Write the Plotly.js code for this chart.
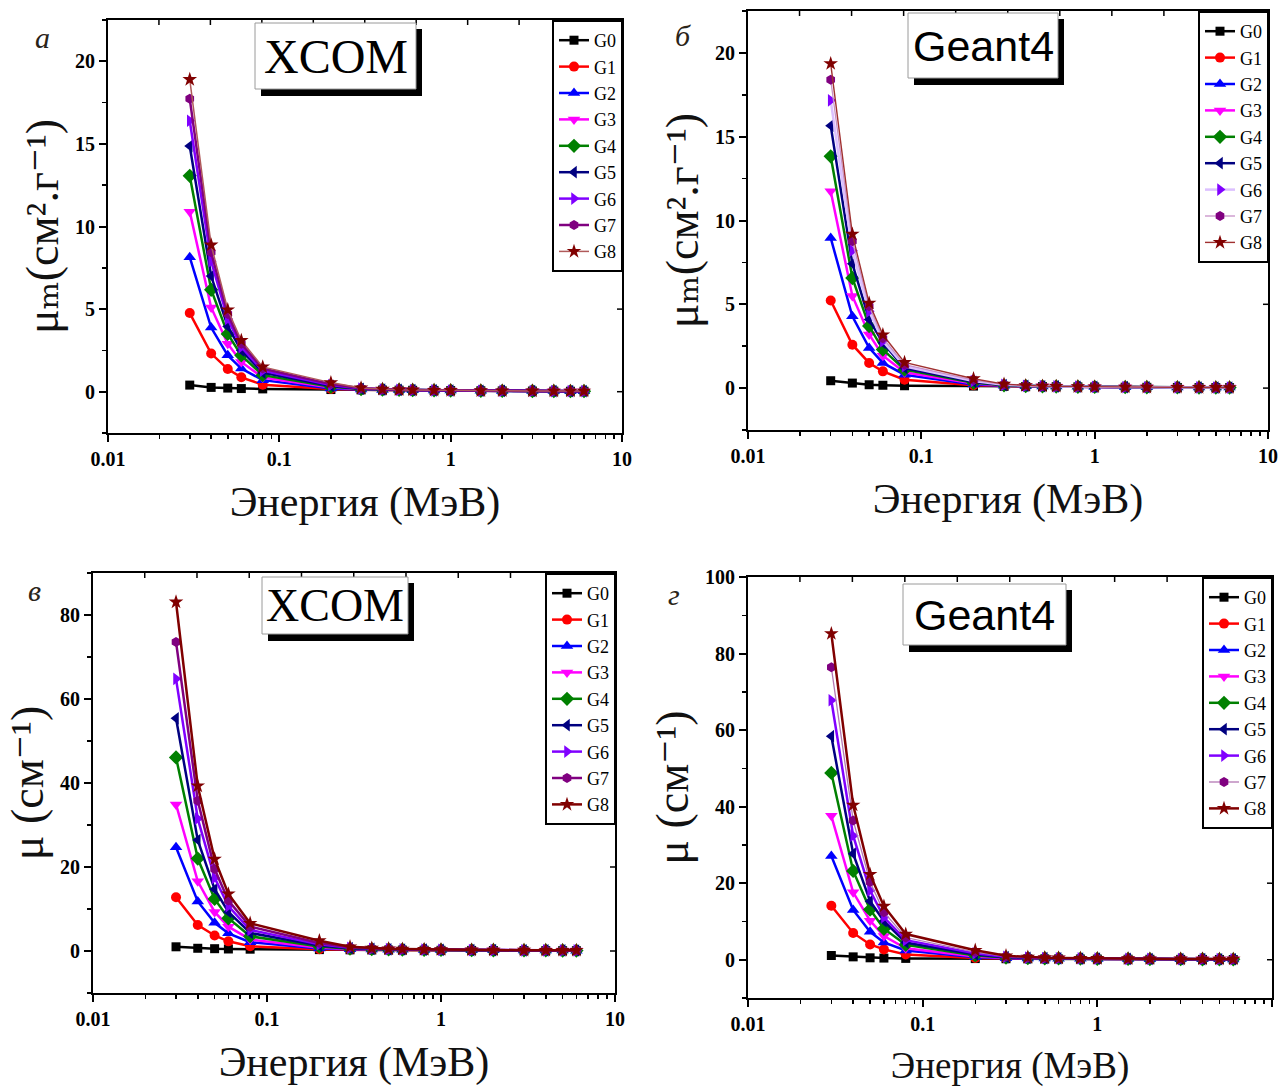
<!DOCTYPE html>
<html>
<head>
<meta charset="utf-8">
<script src="https://cdn.plot.ly/plotly-3.0.1.min.js"></script>
<style>html,body{margin:0;padding:0;background:#fff}</style>
</head>
<body>
<div id="chart" style="width:1280px;height:1088px"></div>
<script>
// Photon energy (MeV)
const energy = [0.03,0.04,0.05,0.06,0.08,0.2,0.3,0.4,0.5,0.6,0.8,1,1.5,2,3,4,5,6];
const seriesNames = ['G0','G1','G2','G3','G4','G5','G6','G7','G8'];

// Panel a: mass attenuation coefficient, XCOM (cm2/g)
const a_G0 = [0.40,0.26,0.22,0.19,0.17,0.13,0.11,0.10,0.093,0.086,0.076,0.068,0.056,0.048,0.039,0.033,0.029,0.027];
const a_G1 = [4.76,2.31,1.37,0.87,0.42,0.16,0.12,0.105,0.096,0.088,0.077,0.069,0.056,0.048,0.039,0.034,0.030,0.028];
const a_G2 = [8.14,3.88,2.20,1.40,0.70,0.20,0.13,0.11,0.10,0.09,0.078,0.07,0.057,0.049,0.04,0.035,0.031,0.029];
const a_G3 = [10.9,5.10,2.90,1.80,0.86,0.25,0.15,0.12,0.105,0.093,0.08,0.071,0.058,0.049,0.041,0.036,0.032,0.030];
const a_G4 = [13.07,6.17,3.50,2.20,1.00,0.30,0.16,0.125,0.108,0.095,0.081,0.072,0.058,0.050,0.041,0.036,0.033,0.031];
const a_G5 = [14.87,7.00,3.95,2.50,1.15,0.35,0.18,0.13,0.11,0.097,0.082,0.073,0.059,0.050,0.042,0.037,0.034,0.032];
const a_G6 = [16.4,7.90,4.40,2.70,1.27,0.40,0.19,0.135,0.113,0.099,0.083,0.073,0.059,0.051,0.042,0.038,0.035,0.033];
const a_G7 = [17.73,8.44,4.70,2.90,1.40,0.46,0.21,0.14,0.115,0.10,0.084,0.074,0.060,0.051,0.043,0.038,0.035,0.034];
const a_G8 = [18.9,8.88,4.96,3.10,1.50,0.55,0.23,0.15,0.12,0.103,0.085,0.075,0.060,0.052,0.043,0.039,0.036,0.035];

// Panel б: mass attenuation coefficient, Geant4 (cm2/g)
const b_G0 = [0.44,0.30,0.20,0.17,0.14,0.12,0.105,0.096,0.089,0.083,0.074,0.066,0.054,0.047,0.038,0.032,0.028,0.026];
const b_G1 = [5.23,2.59,1.50,1.00,0.50,0.17,0.12,0.104,0.095,0.087,0.077,0.069,0.056,0.048,0.039,0.034,0.030,0.028];
const b_G2 = [8.96,4.28,2.40,1.50,0.80,0.22,0.135,0.11,0.10,0.09,0.078,0.07,0.057,0.049,0.04,0.035,0.031,0.029];
const b_G3 = [11.74,5.50,3.20,1.93,0.94,0.27,0.15,0.12,0.105,0.093,0.08,0.071,0.058,0.049,0.041,0.036,0.032,0.030];
const b_G4 = [13.83,6.57,3.70,2.30,1.10,0.32,0.165,0.125,0.108,0.095,0.081,0.072,0.058,0.050,0.041,0.036,0.033,0.031];
const b_G5 = [15.66,7.42,4.10,2.70,1.20,0.37,0.18,0.13,0.11,0.097,0.082,0.073,0.059,0.050,0.042,0.037,0.034,0.032];
const b_G6 = [17.17,8.20,4.58,2.80,1.30,0.42,0.195,0.135,0.113,0.099,0.083,0.073,0.059,0.051,0.042,0.038,0.035,0.033];
const b_G7 = [18.4,8.76,4.88,2.98,1.40,0.48,0.21,0.14,0.115,0.10,0.084,0.074,0.060,0.051,0.043,0.038,0.035,0.034];
const b_G8 = [19.36,9.19,5.07,3.18,1.53,0.56,0.235,0.15,0.12,0.103,0.085,0.075,0.060,0.052,0.043,0.039,0.036,0.035];

// Panel в: linear attenuation coefficient, XCOM (1/cm)
const c_G0 = [1.0,0.65,0.55,0.48,0.43,0.33,0.28,0.25,0.23,0.22,0.19,0.17,0.14,0.12,0.098,0.083,0.073,0.068];
const c_G1 = [12.8,6.2,3.7,2.3,1.13,0.43,0.32,0.28,0.26,0.24,0.21,0.19,0.15,0.13,0.105,0.091,0.081,0.075];
const c_G2 = [24.7,11.8,6.7,4.2,2.1,0.61,0.39,0.33,0.30,0.27,0.24,0.21,0.17,0.15,0.12,0.106,0.094,0.088];
const c_G3 = [34.9,16.6,9.3,5.8,2.75,0.80,0.48,0.38,0.34,0.30,0.26,0.23,0.19,0.16,0.13,0.115,0.102,0.096];
const c_G4 = [46.1,22.0,12.4,7.8,3.5,1.06,0.56,0.44,0.38,0.34,0.29,0.25,0.20,0.18,0.145,0.127,0.116,0.109];
const c_G5 = [55.4,26.4,14.7,9.3,4.3,1.30,0.67,0.49,0.41,0.36,0.31,0.27,0.22,0.19,0.157,0.138,0.127,0.119];
const c_G6 = [64.8,31.5,17.4,10.7,5.0,1.58,0.75,0.53,0.45,0.39,0.33,0.29,0.23,0.20,0.166,0.150,0.138,0.130];
const c_G7 = [73.6,35.8,19.5,12.0,5.8,1.91,0.87,0.58,0.48,0.42,0.35,0.31,0.25,0.21,0.178,0.158,0.145,0.141];
const c_G8 = [83.1,39.3,21.9,13.6,6.6,2.45,1.01,0.66,0.53,0.45,0.37,0.33,0.26,0.23,0.189,0.172,0.158,0.154];

// Panel г: linear attenuation coefficient, Geant4 (1/cm)
const d_G0 = [1.1,0.75,0.50,0.43,0.35,0.30,0.26,0.24,0.22,0.21,0.185,0.165,0.135,0.118,0.095,0.08,0.07,0.065];
const d_G1 = [14.1,7.0,4.0,2.7,1.35,0.46,0.32,0.28,0.26,0.23,0.21,0.19,0.15,0.13,0.105,0.091,0.081,0.075];
const d_G2 = [27.1,13.0,7.3,4.5,2.4,0.67,0.41,0.33,0.30,0.27,0.24,0.21,0.17,0.15,0.12,0.106,0.094,0.088];
const d_G3 = [37.6,17.6,10.2,6.2,3.0,0.86,0.48,0.38,0.34,0.30,0.26,0.23,0.19,0.16,0.13,0.115,0.102,0.096];
const d_G4 = [48.8,23.2,13.1,8.1,3.9,1.13,0.58,0.44,0.38,0.34,0.29,0.25,0.20,0.18,0.145,0.127,0.116,0.109];
const d_G5 = [58.4,27.7,15.3,10.1,4.5,1.38,0.67,0.49,0.41,0.36,0.31,0.27,0.22,0.19,0.157,0.138,0.127,0.119];
const d_G6 = [67.8,32.4,18.1,11.1,5.1,1.66,0.77,0.53,0.45,0.39,0.33,0.29,0.23,0.20,0.166,0.150,0.138,0.130];
const d_G7 = [76.4,36.4,20.3,12.4,5.8,1.99,0.87,0.58,0.48,0.42,0.35,0.31,0.25,0.21,0.178,0.158,0.145,0.141];
const d_G8 = [85.2,40.4,22.3,14.0,6.7,2.46,1.03,0.66,0.53,0.45,0.37,0.33,0.26,0.23,0.189,0.172,0.158,0.154];

const xTickVals = [0.01,0.1,1,10];
const xTickText = ['0.01','0.1','1','10'];
const topMirrorTicks = [1,2,3,4,5,6,7,8,9];   // linear mirror (top) axis ticks, 0.01..10
const panelTags = ['a','б','в','г'];
const panelSources = ['XCOM','Geant4','XCOM','Geant4'];
const xTitle = 'Энергия (МэВ)';
const yTitleMass = 'μₘ(см².г⁻¹)';
const yTitleLin = 'μ (см⁻¹)';

// ---------- styling ----------
const W = 1280, H = 1088;
const px = v => v / W;
const py = v => 1 - v / H;
const SERIF = 'Liberation Serif, DejaVu Serif, Times New Roman, serif';
const SANS = 'Liberation Sans, Arial, sans-serif';

const colors = ['#000000','#ff0000','#0000ff','#ff00ff','#008000','#000080','#8000ff','#800080','#800000'];
const symbols = ['square','circle','triangle-up','triangle-down','diamond','triangle-left','triangle-right','hexagon','star'];
const msize = [9,10,11,11,11,11,11,10,11];

const panels = [
  {data:[a_G0,a_G1,a_G2,a_G3,a_G4,a_G5,a_G6,a_G7,a_G8], box:[108,20,622,433], yr:[-2.5,22.5], dt:5, mdt:2.5,
   xfs:42, lineOverride:{8:{color:'#b05a5a',width:1.5}}},
  {data:[b_G0,b_G1,b_G2,b_G3,b_G4,b_G5,b_G6,b_G7,b_G8], box:[748,11,1268,430], yr:[-2.5,22.5], dt:5, mdt:2.5,
   xfs:42, lineOverride:{6:{color:'#dcc0ff',width:2.5},7:{color:'#c890c8',width:1.3},8:{color:'#a03030',width:1.4}}},
  {data:[c_G0,c_G1,c_G2,c_G3,c_G4,c_G5,c_G6,c_G7,c_G8], box:[93,573,615,993], yr:[-10,90], dt:20, mdt:10,
   xfs:42, lineOverride:{}},
  {data:[d_G0,d_G1,d_G2,d_G3,d_G4,d_G5,d_G6,d_G7,d_G8], box:[748,577,1272,998], yr:[-10,100], dt:20, mdt:10,
   xfs:37, lineOverride:{7:{color:'#b478b4',width:1.3}}}
];

const minorX = [];
[0.01,0.1,1].forEach(d => { for (let k=2;k<=9;k++) minorX.push(+(d*k).toPrecision(3)); });

const traces = [];
const layout = {
  width: W, height: H,
  margin: {l:0,r:0,t:0,b:0},
  paper_bgcolor: '#fff', plot_bgcolor: '#fff',
  showlegend: true,
  shapes: [], annotations: []
};

panels.forEach((p, pi) => {
  const n = pi + 1;
  const xs = n === 1 ? '' : String(n);
  const legendKey = n === 1 ? 'legend' : 'legend' + n;
  p.data.forEach((ys, i) => {
    const ov = p.lineOverride[i] || {};
    traces.push({
      x: energy, y: ys, name: seriesNames[i],
      xaxis: 'x' + xs, yaxis: 'y' + xs, legend: legendKey,
      mode: 'lines+markers', cliponaxis: true,
      line: {color: ov.color || colors[i], width: ov.width || 2.5},
      marker: {symbol: symbols[i], size: msize[i], color: colors[i], line: {width: 0}}
    });
  });
  const [L,T,R,B] = p.box;
  const isMass = pi < 2;
  layout['xaxis' + xs] = {
    domain: [px(L), px(R)], anchor: 'y' + xs, type: 'log', range: [-2, 1],
    tickmode: 'array', tickvals: xTickVals, ticktext: xTickText,
    ticks: 'outside', ticklen: 7, tickwidth: 2, tickcolor: '#000',
    showline: true, linewidth: 2, linecolor: '#000', mirror: true,
    showgrid: false, zeroline: false, automargin: false,
    tickfont: {family: SERIF, size: 20, color: '#000', weight: 'bold'},
    minor: {tickmode: 'array', tickvals: minorX, ticks: 'outside', ticklen: 4, tickwidth: 1.5, tickcolor: '#000', showgrid: false},
    title: {text: xTitle, font: {family: SERIF, size: p.xfs, color: '#111'}, standoff: 18}
  };
  layout['yaxis' + xs] = {
    domain: [py(B), py(T)], anchor: 'x' + xs, range: p.yr,
    tick0: 0, dtick: p.dt,
    ticks: 'outside', ticklen: 7, tickwidth: 2, tickcolor: '#000',
    showline: true, linewidth: 2, linecolor: '#000', mirror: true,
    showgrid: false, zeroline: false, automargin: false,
    tickfont: {family: SERIF, size: 20, color: '#000', weight: 'bold'},
    minor: {dtick: p.mdt, tick0: 0, ticks: 'outside', ticklen: 4, tickwidth: 1.5, tickcolor: '#000', showgrid: false},
    title: {text: isMass ? yTitleMass : yTitleLin, font: {family: SERIF, size: 46, color: '#111'}, standoff: 2}
  };
  // inward ticks on the top (linear mirror axis) and right side
  const hFrac = 5 / (B - T), wFrac = 5 / (R - L);
  topMirrorTicks.forEach(k => {
    const f = (k - 0.01) / (10 - 0.01);
    layout.shapes.push({type:'line', xref:'x' + xs + ' domain', yref:'y' + xs + ' domain',
      x0:f, x1:f, y0:1, y1:1 - hFrac, line:{color:'#000', width:1.5}});
  });
  for (let v = 0; v <= p.yr[1]; v += p.dt) {
    layout.shapes.push({type:'line', xref:'x' + xs + ' domain', yref:'y' + xs,
      x0:1, x1:1 - wFrac, y0:v, y1:v, line:{color:'#000', width:1.5}});
  }
  // legend
  layout[legendKey] = {
    x: px(R + 1), y: py(T), xanchor: 'right', yanchor: 'top',
    bgcolor: '#fff', bordercolor: '#000', borderwidth: 2,
    font: {family: SERIF, size: 18, color: '#000'},
    tracegroupgap: 0, itemclick: false
  };
});

// source boxes with drop shadow
const srcBoxes = [
  {b:[255,23,416,89], fs:48, font:SERIF},
  {b:[908,13,1058,78], fs:43, font:SANS},
  {b:[262,577,408,634], fs:46, font:SERIF},
  {b:[903,584,1066,645], fs:43, font:SANS}
];
srcBoxes.forEach((s, i) => {
  const [x0,y0,x1,y1] = s.b;
  layout.shapes.push({type:'rect', xref:'paper', yref:'paper', x0:px(x0+6), x1:px(x1+6), y0:py(y1+7), y1:py(y0+6),
    fillcolor:'#000', line:{width:0}, layer:'above'});
  layout.shapes.push({type:'rect', xref:'paper', yref:'paper', x0:px(x0), x1:px(x1), y0:py(y1), y1:py(y0),
    fillcolor:'#fff', line:{color:'#9a9a9a', width:1}, layer:'above'});
  layout.annotations.push({xref:'paper', yref:'paper', x:px((x0+x1)/2), y:py((y0+y1)/2), xanchor:'center', yanchor:'middle',
    text: panelSources[i], showarrow:false, font:{family:s.font, size:s.fs, color:'#000'}});
});

// panel letters
const tagPos = [[42,38],[683,36],[34,590],[674,594]];
tagPos.forEach((t, i) => {
  layout.annotations.push({xref:'paper', yref:'paper', x:px(t[0]), y:py(t[1]), xanchor:'center', yanchor:'middle',
    text: panelTags[i], showarrow:false, font:{family:SERIF, size:30, color:'#2a2418', style:'italic'}});
});

Plotly.newPlot('chart', traces, layout, {staticPlot: true, displayModeBar: false});
</script>
</body>
</html>
